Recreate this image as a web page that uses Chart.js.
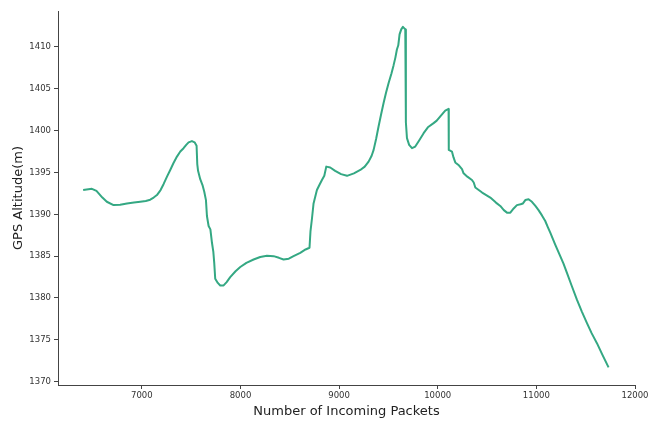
<!DOCTYPE html>
<html>
<head>
<meta charset="utf-8">
<script src="https://cdn.jsdelivr.net/npm/chart.js@4.4.1/dist/chart.umd.min.js"></script>
<style>
  html, body { margin: 0; padding: 0; background: #ffffff; }
  #wrap { width: 648px; height: 421px; position: relative; }
</style>
</head>
<body>
<div id="wrap"><canvas id="c" width="648" height="421"></canvas></div>
<script>
const packets = [6405,6494,6540,6600,6645,6713,6780,6849,6920,6984,7040,7085,7120,7153,7190,7220,7255,7288,7320,7356,7390,7423,7450,7474,7508,7535,7555,7562,7570,7592,7615,7633,7650,7660,7677,7695,7711,7725,7734,7744,7770,7795,7829,7860,7896,7950,7998,8060,8133,8200,8268,8336,8390,8437,8490,8538,8606,8660,8700,8710,8725,8741,8775,8800,8826,8850,8870,8910,8960,9020,9080,9150,9215,9260,9299,9330,9350,9375,9400,9425,9451,9475,9502,9530,9552,9570,9586,9600,9613,9630,9647,9671,9677,9688,9710,9739,9772,9810,9857,9900,9958,9990,10026,10076,10110,10112,10144,10160,10178,10210,10246,10262,10300,10347,10365,10381,10450,10533,10590,10634,10670,10702,10736,10770,10803,10840,10864,10888,10921,10955,10990,11022,11055,11090,11115,11141,11190,11242,11275,11310,11360,11411,11460,11513,11560,11614,11670,11732];
const altitude = [1392.9,1393.05,1392.8,1392.0,1391.5,1391.1,1391.15,1391.3,1391.4,1391.5,1391.6,1391.75,1392.0,1392.3,1392.9,1393.6,1394.5,1395.3,1396.1,1396.9,1397.5,1397.9,1398.3,1398.6,1398.75,1398.6,1398.2,1396.0,1395.2,1394.2,1393.5,1392.7,1391.7,1389.8,1388.6,1388.2,1386.6,1385.5,1384.2,1382.3,1381.8,1381.5,1381.5,1381.9,1382.5,1383.2,1383.7,1384.2,1384.6,1384.9,1385.05,1385.0,1384.8,1384.6,1384.7,1385.0,1385.4,1385.8,1386.0,1388.0,1389.5,1391.3,1392.9,1393.5,1394.1,1394.6,1395.7,1395.6,1395.2,1394.8,1394.6,1394.9,1395.3,1395.7,1396.3,1397.0,1397.7,1399.0,1400.5,1401.9,1403.3,1404.5,1405.7,1406.8,1407.8,1408.7,1409.7,1410.2,1411.5,1412.1,1412.4,1412.1,1401.0,1399.1,1398.3,1397.9,1398.1,1398.8,1399.7,1400.4,1400.9,1401.2,1401.7,1402.4,1402.6,1397.7,1397.5,1396.8,1396.2,1395.9,1395.4,1394.9,1394.5,1394.1,1393.8,1393.2,1392.6,1392.0,1391.4,1391.0,1390.5,1390.2,1390.2,1390.7,1391.1,1391.2,1391.3,1391.7,1391.8,1391.5,1391.0,1390.5,1389.9,1389.2,1388.5,1387.8,1386.4,1385.0,1384.1,1383.0,1381.4,1379.8,1378.4,1377.0,1375.8,1374.6,1373.2,1371.7];
const xTicks = [7000, 8000, 9000, 10000, 11000, 12000];
const yTicks = [1370, 1375, 1380, 1385, 1390, 1395, 1400, 1405, 1410];
const xTitle = 'Number of Incoming Packets';
const yTitle = 'GPS Altitude(m)';

const points = packets.map((p, i) => ({ x: p, y: altitude[i] }));
const axisColor = '#444444';
const tickFont = { family: 'DejaVu Sans', size: 8.5 };
const titleFont = { family: 'DejaVu Sans', size: 13 };

new Chart(document.getElementById('c'), {
  type: 'line',
  data: {
    datasets: [{
      data: points,
      borderColor: '#34a883',
      borderWidth: 2,
      borderJoinStyle: 'round',
      pointRadius: 0,
      tension: 0,
      fill: false
    }]
  },
  options: {
    responsive: false,
    animation: false,
    layout: { padding: { left: 0, right: 13, top: 11, bottom: 0 } },
    plugins: { legend: { display: false }, tooltip: { enabled: false } },
    scales: {
      x: {
        type: 'linear',
        min: 6150,
        max: 12000,
        afterBuildTicks: s => { s.ticks = xTicks.map(v => ({ value: v })); },
        afterFit: s => { s.height = 36; s.paddingLeft = 0; s.paddingRight = 0; },
        grid: { display: true, drawOnChartArea: false, drawTicks: true, tickLength: 4, color: axisColor, lineWidth: 1 },
        border: { display: true, color: axisColor, width: 1 },
        ticks: { font: tickFont, color: '#333333', padding: 2, maxRotation: 0, autoSkip: false, callback: v => String(v) },
        title: { display: true, text: xTitle, font: titleFont, color: '#222222', padding: { top: 0, bottom: 2 } }
      },
      y: {
        type: 'linear',
        min: 1369.6,
        max: 1414.3,
        afterBuildTicks: s => { s.ticks = yTicks.map(v => ({ value: v })); },
        afterFit: s => { s.width = 58; s.paddingTop = 0; s.paddingBottom = 0; },
        grid: { display: true, drawOnChartArea: false, drawTicks: true, tickLength: 4, color: axisColor, lineWidth: 1 },
        border: { display: true, color: axisColor, width: 1 },
        ticks: { font: tickFont, color: '#333333', padding: 3, autoSkip: false, callback: v => String(v) },
        title: { display: true, text: yTitle, font: titleFont, color: '#222222', padding: { top: 11, bottom: 0 } }
      }
    }
  }
});
</script>
</body>
</html>
